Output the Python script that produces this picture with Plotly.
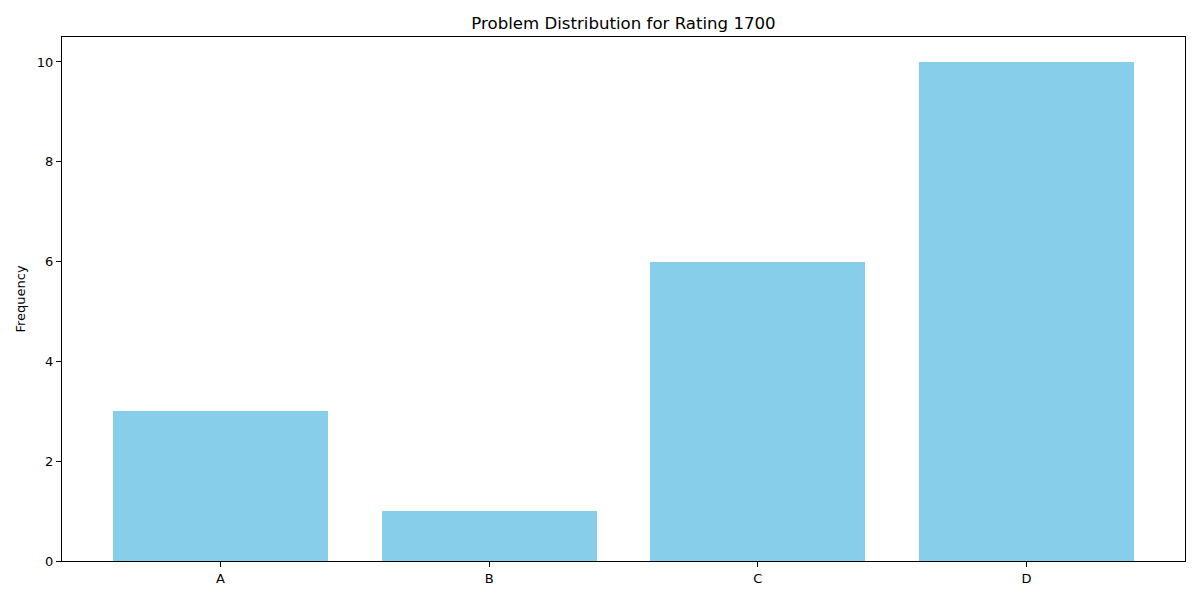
import plotly.graph_objects as go

categories = ["A", "B", "C", "D"]
frequencies = [3, 1, 6, 10]
y_ticks = [0, 2, 4, 6, 8, 10]

fig = go.Figure(go.Bar(
    x=list(range(len(categories))), y=frequencies, width=0.8,
    marker=dict(color="#87CEEB", line=dict(width=0)),
))

font = "DejaVu Sans, sans-serif"
fig.update_layout(
    width=1200, height=600,
    margin=dict(l=54, r=23, t=29, b=47),
    paper_bgcolor="white", plot_bgcolor="white",
    font=dict(family=font, size=13, color="black"),
    title=dict(text="Problem Distribution for Rating 1700", x=0.5,
               xanchor="center", xref="paper",
               y=1 - 15/600, yanchor="middle", font=dict(size=16.6, family=font)),
    showlegend=False,
    bargap=0,
)
fig.update_xaxes(
    range=[-0.59, 3.59], tickmode="array", tickvals=list(range(len(categories))),
    ticktext=categories, showgrid=False, zeroline=False,
    showline=True, linecolor="black", linewidth=1, mirror=True,
    ticks="outside", ticklen=5, tickcolor="black",
)
fig.update_yaxes(
    range=[0, 10.5], tickmode="array", tickvals=y_ticks, ticktext=[str(t) for t in y_ticks],
    showgrid=False, zeroline=False,
    showline=True, linecolor="black", linewidth=1, mirror=True,
    ticks="outside", ticklen=5, tickcolor="black",
    title=dict(text="Frequency", font=dict(size=13), standoff=8),
)
fig.write_html("out.html")
